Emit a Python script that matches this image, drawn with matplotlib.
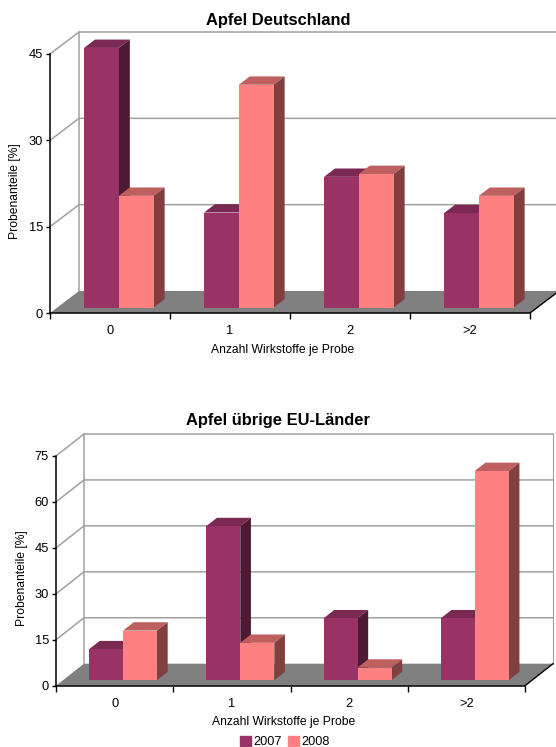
import matplotlib
matplotlib.use('Agg')
import matplotlib.pyplot as plt
from matplotlib.patches import Patch

W, H = 556, 747

categorias = ['0', '1', '2', '>2']
de_2007 = [45.1, 16.5, 22.7, 16.4]
de_2008 = [19.4, 38.7, 23.2, 19.4]
eu_2007 = [10.1, 50.3, 20.2, 20.2]
eu_2008 = [16.2, 12.2, 4.1, 68.3]
ticks_de = [0, 15, 30, 45]
ticks_eu = [0, 15, 30, 45, 60, 75]

plt.rcParams['font.family'] = ['Liberation Sans', 'DejaVu Sans']

COL_2007 = ('#993366', '#7A2952', '#4D1A33')   # frente, tapa, costado
COL_2008 = ('#FF8080', '#BF6060', '#804040')
GRIS = '#A0A0A0'


def poly(ax, pts, color, z):
    xs = [p[0] for p in pts]
    ys = [p[1] for p in pts]
    ax.fill(xs, ys, color=color, lw=0, zorder=z, clip_on=False)


def caja(ax, x0, x1, v, d0, d1, ox, oy, cols, z):
    # punto en el plano oblicuo: d es la profundidad (0 adelante, 1 atras)
    p = lambda x, y, d: (x + d * ox, y + d * oy)
    poly(ax, [p(x0, v, d0), p(x1, v, d0), p(x1, v, d1), p(x0, v, d1)], cols[1], z)
    poly(ax, [p(x1, 0, d0), p(x1, v, d0), p(x1, v, d1), p(x1, 0, d1)], cols[2], z)
    poly(ax, [p(x0, 0, d0), p(x1, 0, d0), p(x1, v, d0), p(x0, v, d0)], cols[0], z + 0.5)


def grafico(rect, titulo, titulo_y, ticks, serie1, serie2, dx, dy, barra0, ancho, ylab_x, xlab_y):
    left, top, width, height = rect
    ax = fig.add_axes([left / W, 1 - (top + height) / H, width / W, height / H])
    ymax = ticks[-1]
    ax.set_xlim(0, 4)
    ax.set_ylim(0, ymax)
    ax.patch.set_visible(False)
    ox = dx / (width / 4)
    oy = dy / (height / ymax)

    # pared del fondo
    for t in ticks[1:]:
        ax.plot([0, ox, 4 + ox], [t, t + oy, t + oy], color=GRIS, lw=1.1, zorder=1, clip_on=False)
    ax.plot([ox, ox], [oy, ymax + oy], color=GRIS, lw=1.1, zorder=1, clip_on=False)
    ax.plot([4 + ox, 4 + ox], [oy, ymax + oy], color=GRIS, lw=0.8, zorder=1, clip_on=False)
    # piso
    poly(ax, [(0, 0), (4, 0), (4 + ox, oy), (ox, oy)], '#808080', 2)
    ax.plot([4, 4 + ox], [0, oy], color='black', lw=1, zorder=3, clip_on=False)

    for i in range(4):
        x0 = i + barra0
        z = 4 + i
        caja(ax, x0, x0 + ancho, serie1[i], 0.25, 0.63, ox, oy, COL_2007, z)
        caja(ax, x0 + ancho, x0 + 2 * ancho, serie2[i], 0.25, 0.63, ox, oy, COL_2008, z + 0.6)

    for lado in ['top', 'right']:
        ax.spines[lado].set_visible(False)
    for lado in ['left', 'bottom']:
        ax.spines[lado].set_linewidth(1.1)
        ax.spines[lado].set_zorder(20)
    ax.set_yticks(ticks)
    ax.set_xticks(range(5))
    ax.set_xticklabels([])
    ax.set_xticks([0.5, 1.5, 2.5, 3.5], labels=categorias, minor=True)
    ax.tick_params(axis='x', which='minor', length=0, labelsize=9.3, pad=8.5)
    ax.tick_params(axis='x', which='major', length=4, width=1)
    ax.tick_params(axis='y', length=3, width=1, labelsize=9.3, pad=2, colors='black')
    ax.set_ylabel('Probenanteile [%]', fontsize=8.7)
    ax.yaxis.set_label_coords((ylab_x - left) / width, 0.47)
    ax.yaxis.label.set_verticalalignment('center')
    ax.set_xlabel('Anzahl Wirkstoffe je Probe', fontsize=8.7)
    ax.xaxis.set_label_coords(0.485, -(xlab_y - top - height) / height, transform=ax.transAxes)
    ax.xaxis.label.set_verticalalignment('center')
    fig.text(278 / W, 1 - titulo_y / H, titulo, ha='center', va='center', fontsize=11.9, fontweight='bold')
    return ax


fig = plt.figure(figsize=(W / 100, H / 100), dpi=100)

grafico((50, 54, 480, 259), 'Apfel Deutschland', 21, ticks_de, de_2007, de_2008,
        29, 22, 0.223, 0.29, 15, 350.5)
ax2 = grafico((56, 456, 469, 229.7), 'Apfel übrige EU-Länder', 420.5, ticks_eu, eu_2007, eu_2008,
              28, 22, 0.222, 0.29, 22.5, 722.5)

manijas = [Patch(color=COL_2007[0], label='2007'), Patch(color=COL_2008[0], label='2008')]
fig.legend(handles=manijas, loc='center', bbox_to_anchor=(285 / W, 1 - 742 / H), ncol=2, frameon=False,
           fontsize=9.2, handlelength=0.85, handleheight=0.85, handletextpad=0.2,
           columnspacing=0.5, borderpad=0, borderaxespad=0)

fig.savefig('out.png', dpi=100)
